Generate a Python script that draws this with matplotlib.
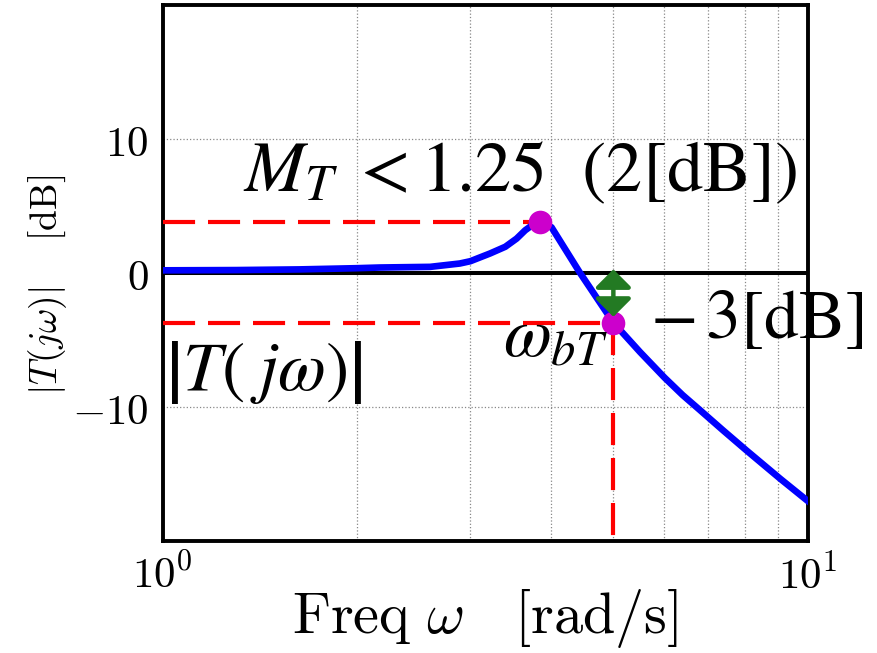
import numpy as np
import matplotlib
matplotlib.use("Agg")
import matplotlib.pyplot as plt
from matplotlib.ticker import FixedLocator, FixedFormatter, NullFormatter

# -----------------------------------------
# Closed-loop magnitude |T(jw)| in dB
# -----------------------------------------
freq = [1.0, 1.3, 1.63, 2.0, 2.17, 2.6, 2.89, 3.0, 3.22, 3.4, 3.54, 3.65,
        3.75, 3.85, 4.01, 4.44, 5.0, 5.5, 6.0, 6.4, 6.8, 7.4, 8.05, 9.08, 10.0]
mag_db = [0.2, 0.22, 0.27, 0.36, 0.41, 0.46, 0.71, 0.88, 1.46, 1.96, 2.57, 3.19,
          3.6, 3.82, 3.41, 0.0, -3.7, -5.9, -7.8, -9.1, -10.2, -11.75, -13.26,
          -15.37, -17.0]

# resonance peak and -3 dB bandwidth point
peak_w, peak_db = 3.85, 3.82
bw_w, bw_db = 5.0, -3.7

y_ticks = [-10, 0, 10]
y_ticklabels = [r"$-10$", r"$0$", r"$10$"]
x_ticks = [1, 10]
x_ticklabels = [r"$10^0$", r"$10^1$"]

plt.rcParams["mathtext.fontset"] = "cm"

fig = plt.figure(figsize=(8.77, 6.53), dpi=100)
ax = fig.add_axes([0.1853, 0.1715, 0.7355, 0.8208])

# -----------------------------------------
# Axes, grid
# -----------------------------------------
ax.set_xscale("log")
ax.set_xlim(1, 10)
ax.set_ylim(-20, 20)
ax.grid(True, which="both", axis="x", color="#888888", ls=":", lw=0.9)
ax.grid(True, which="major", axis="y", color="#888888", ls=":", lw=0.9)
ax.set_axisbelow(True)

ax.xaxis.set_major_locator(FixedLocator(x_ticks))
ax.xaxis.set_major_formatter(FixedFormatter(x_ticklabels))
ax.xaxis.set_minor_formatter(NullFormatter())
ax.yaxis.set_major_locator(FixedLocator(y_ticks))
ax.yaxis.set_major_formatter(FixedFormatter(y_ticklabels))
ax.tick_params(which="both", length=0, labelsize=31, pad=10)

for sp in ax.spines.values():
    sp.set_linewidth(2.8)

ax.axhline(0, color="black", lw=2.9, zorder=2)

# -----------------------------------------
# Curve, markers, guide lines
# -----------------------------------------
dash = (7.7, 3.1)
ax.plot([1, peak_w], [peak_db, peak_db], color="red", lw=3, dashes=dash, zorder=3)
ax.plot([1, bw_w], [bw_db, bw_db], color="red", lw=3, dashes=dash, zorder=3)
ax.plot([bw_w, bw_w], [bw_db, -20], color="red", lw=3, dashes=dash, zorder=3)

ax.plot(freq, mag_db, color="blue", lw=4.8, zorder=4)

ax.plot([peak_w, bw_w], [peak_db, bw_db], "o", color="#cc00cc", ms=17,
        mec="none", zorder=5)

# double arrow between 0 dB and the bandwidth level
ax.annotate("", xy=(bw_w, -3.27), xytext=(bw_w, 0.28),
            arrowprops=dict(arrowstyle="<|-|>,head_length=0.55,head_width=0.55",
                            color="#237a23", lw=3.2, mutation_scale=20,
                            shrinkA=0, shrinkB=0), zorder=6)

# -----------------------------------------
# Labels
# -----------------------------------------
ax.set_xlabel(r"$\mathrm{Freq}\ \omega\quad [\mathrm{rad/s}]$", fontsize=42, labelpad=-8)
ax.set_ylabel(r"$|T(j\omega)|\quad\ [\mathrm{dB}]$", fontsize=27, labelpad=2)
ax.yaxis.label.set_y(0.478)

big = 50
ax.text(1.333, 6.1, r"$M_T\; < 1.25\ \ \mathrm{(2[dB])}$", fontsize=52,
        math_fontfamily="stix", ha="left", va="baseline", zorder=7)
ax.text(1.01, -8.7, r"$\left|T(\;j\omega)\right|$", fontsize=big,
        math_fontfamily="stix", ha="left", va="baseline", zorder=7)
ax.text(3.37, -6.2, r"$\omega_{bT}$", fontsize=big,
        math_fontfamily="stix", ha="left", va="baseline", zorder=7)
ax.text(5.7, -4.85, r"$-\,3[\mathrm{dB}]$", fontsize=big,
        math_fontfamily="stix", ha="left", va="baseline", zorder=7)

fig.savefig("out.png", dpi=100)
